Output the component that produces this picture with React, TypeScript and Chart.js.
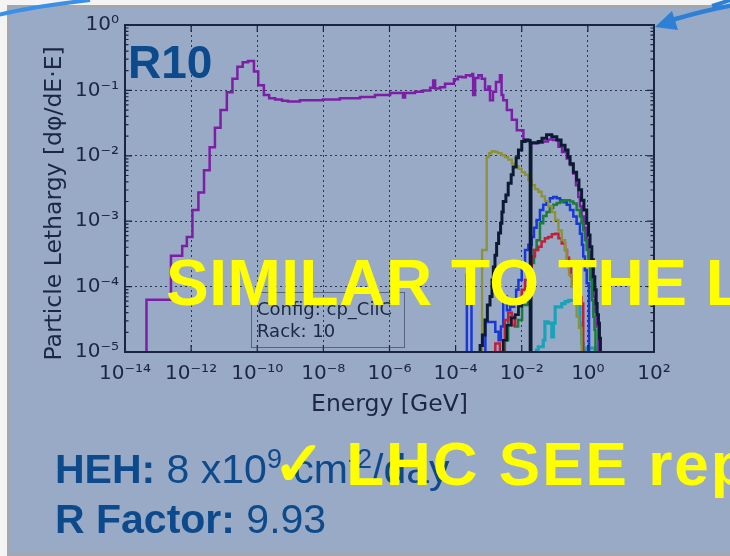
import React, { useEffect, useRef } from 'react';
import { Chart, registerables } from 'chart.js';

Chart.register(...registerables);

// ---------- data (log10 energy [GeV], log10 lethargy) ----------
const Z = -9; // empty bin

type Bin = [number, number];

const xTickExp = [-14, -12, -10, -8, -6, -4, -2, 0, 2];
const xTickLabels = ['10⁻¹⁴', '10⁻¹²', '10⁻¹⁰', '10⁻⁸', '10⁻⁶', '10⁻⁴', '10⁻²', '10⁰', '10²'];
const yTickExp = [-5, -4, -3, -2, -1, 0];
const yTickLabels = ['10⁻⁵', '10⁻⁴', '10⁻³', '10⁻²', '10⁻¹', '10⁰'];

const purpleBins: Bin[] = [
  [-13.35, -4.2], [-12.61, -3.53], [-12.27, -3.38], [-12.13, -3.24], [-11.96, -2.83], [-11.78, -2.56],
  [-11.61, -2.22], [-11.44, -1.87], [-11.28, -1.57], [-11.11, -1.3], [-10.92, -1.03], [-10.75, -0.82],
  [-10.6, -0.64], [-10.44, -0.57], [-10.28, -0.55], [-10.1, -0.71], [-9.97, -0.92], [-9.8, -1.07],
  [-9.64, -1.12], [-9.46, -1.14], [-9.25, -1.16], [-9.07, -1.17], [-8.86, -1.17], [-8.71, -1.15],
  [-8.4, -1.15], [-8.01, -1.14], [-7.5, -1.12], [-6.89, -1.1], [-6.44, -1.07], [-5.98, -1.04],
  [-5.68, -1.04], [-5.59, -1.11], [-5.53, -1.04], [-5.23, -1.02], [-4.99, -1.0], [-4.77, -0.96],
  [-4.68, -0.85], [-4.62, -0.97], [-4.47, -0.95], [-4.32, -0.9], [-4.17, -0.9], [-4.05, -0.83],
  [-3.93, -0.79], [-3.81, -0.8], [-3.69, -0.77], [-3.56, -0.78], [-3.5, -0.75], [-3.47, -1.07],
  [-3.41, -0.81], [-3.31, -0.77], [-3.21, -0.82], [-3.11, -0.99], [-3.01, -0.94], [-2.96, -1.15],
  [-2.87, -1.02], [-2.78, -0.87], [-2.66, -0.77], [-2.61, -1.07], [-2.56, -1.15], [-2.45, -1.3],
  [-2.3, -1.45], [-2.15, -1.61], [-1.95, -1.76], [-1.75, -1.81], [-1.54, -1.8], [-1.36, -1.78],
  [-1.21, -1.75], [-1.05, -1.76], [-0.89, -1.86], [-0.78, -1.94], [-0.64, -2.04], [-0.54, -2.14],
  [-0.44, -2.27], [-0.36, -2.45], [-0.29, -2.63], [-0.24, -2.77], [-0.19, -2.93], [-0.12, -3.1],
  [-0.035, -3.29], [0.02, -3.47], [0.065, -3.64], [0.12, -3.9], [0.165, -4.15], [0.22, -4.39],
  [0.27, -4.61],
];
const purpleEnd = 0.32;

const blackBins: Bin[] = [
  [-3.26, -4.9], [-3.19, -4.74], [-3.11, -4.51], [-3.04, -4.28], [-2.96, -4.15], [-2.9, -3.9],
  [-2.86, -3.7], [-2.81, -3.52], [-2.76, -3.34], [-2.7, -3.18], [-2.64, -3.03], [-2.6, -2.86],
  [-2.56, -2.7], [-2.48, -2.6], [-2.41, -2.42], [-2.32, -2.29], [-2.26, -2.17], [-2.17, -2.03],
  [-2.1, -1.91], [-2.0, -1.78], [-1.9, -1.76], [-1.81, -1.77], [-1.745, Z], [-1.72, -1.8],
  [-1.6, -1.8], [-1.5, -1.78], [-1.39, -1.73], [-1.25, -1.68], [-1.09, -1.71], [-0.94, -1.76],
  [-0.81, -1.84], [-0.69, -1.91], [-0.6, -2.02], [-0.54, -2.12], [-0.44, -2.25], [-0.34, -2.37],
  [-0.27, -2.52], [-0.19, -2.68], [-0.12, -2.83], [-0.035, -3.03], [0.02, -3.21], [0.065, -3.39],
  [0.12, -3.59], [0.165, -3.85], [0.21, -4.05], [0.25, -4.26], [0.28, -4.43], [0.32, -4.56],
  [0.35, -4.79],
];
const blackEnd = 0.38;

const oliveBins: Bin[] = [
  [-3.2, -3.44], [-3.06, -2.02], [-2.99, -1.96], [-2.91, -1.93], [-2.81, -1.94], [-2.72, -1.96],
  [-2.61, -1.99], [-2.51, -2.02], [-2.41, -2.06], [-2.3, -2.12], [-2.2, -2.16], [-2.1, -2.2],
  [-2.0, -2.25], [-1.9, -2.29], [-1.8, -2.37], [-1.7, -2.45], [-1.6, -2.51], [-1.5, -2.55],
  [-1.4, -2.62], [-1.3, -2.69], [-1.2, -2.77], [-1.09, -2.86], [-0.99, -2.98], [-0.89, -3.14],
  [-0.79, -3.29], [-0.69, -3.44], [-0.64, -3.64], [-0.57, -3.82], [-0.49, -4.0], [-0.42, -4.21],
  [-0.34, -4.46], [-0.27, -4.63],
];
const oliveEnd = -0.19;

const blueBins: Bin[] = [
  [-3.66, -3.82], [-3.52, Z], [-3.1, -4.54], [-2.8, -4.69], [-2.7, -4.82], [-2.63, -4.61],
  [-2.56, -4.15], [-2.45, -4.36], [-2.35, -4.31], [-2.23, -4.21], [-2.17, -4.05], [-2.1, -3.9],
  [-2.0, -3.7], [-1.9, -3.44], [-1.8, -3.36], [-1.7, -3.24], [-1.63, -3.1], [-1.55, -2.98],
  [-1.45, -2.83], [-1.35, -2.75], [-1.25, -2.7], [-1.15, -2.65], [-1.05, -2.63], [-0.94, -2.65],
  [-0.84, -2.68], [-0.74, -2.71], [-0.64, -2.75], [-0.54, -2.83], [-0.44, -2.93], [-0.34, -3.04],
  [-0.24, -3.19], [-0.18, -3.36], [-0.14, -3.54], [-0.09, -3.75], [-0.035, -3.95],
];
const blueEnd = 0.035;

const greenBins: Bin[] = [
  [-2.51, -4.82], [-2.41, -4.46], [-2.21, -4.61], [-2.11, -4.51], [-1.99, -4.28], [-1.81, -3.98],
  [-1.7, -3.64], [-1.63, -3.44], [-1.55, -3.29], [-1.45, -3.03], [-1.35, -2.92], [-1.25, -2.86],
  [-1.15, -2.8], [-1.05, -2.75], [-0.94, -2.72], [-0.84, -2.7], [-0.74, -2.68], [-0.64, -2.68],
  [-0.54, -2.7], [-0.44, -2.73], [-0.34, -2.83], [-0.24, -2.93], [-0.19, -3.03], [-0.14, -3.14],
  [-0.09, -3.29], [-0.035, -3.44], [0.015, -3.67], [0.065, -3.9], [0.12, -4.21], [0.165, -4.46],
  [0.2, -4.66],
];
const greenEnd = 0.23;

const redBins: Bin[] = [
  [-2.8, -4.87], [-2.66, Z], [-2.56, -4.82], [-2.51, -4.51], [-2.41, -4.4], [-2.3, -4.59],
  [-2.2, -4.43], [-2.1, -4.28], [-2.0, -4.05], [-1.9, -3.9], [-1.8, -3.75], [-1.7, -3.54],
  [-1.6, -3.44], [-1.5, -3.39], [-1.4, -3.31], [-1.3, -3.26], [-1.2, -3.24], [-1.09, -3.2],
  [-0.99, -3.19], [-0.89, -3.26], [-0.79, -3.34], [-0.69, -3.44], [-0.63, -3.56], [-0.57, -3.72],
  [-0.51, -3.84], [-0.44, -3.95], [-0.34, -4.05], [-0.27, -4.16], [-0.19, -4.26],
];
const redEnd = -0.14;

const cyanBins: Bin[] = [
  [-1.55, -4.97], [-1.5, -4.92], [-1.35, -4.82], [-1.3, -4.54], [-1.2, -4.56], [-1.09, -4.77],
  [-1.04, -4.56], [-0.99, -4.31], [-0.89, -4.31], [-0.79, -4.26], [-0.69, -4.23], [-0.59, -4.21],
  [-0.44, -4.21], [-0.34, -4.22], [-0.29, -4.26], [-0.24, -4.56], [-0.19, -4.87], [-0.14, -4.97],
  [-0.035, -4.94],
];
const cyanEnd = 0.22;

const navyLowBins: Bin[] = [
  [-2.56, -4.82], [-2.45, -4.59], [-2.32, -4.48], [-2.2, -4.43], [-2.1, -4.3], [-2.0, -4.2], [-1.93, -4.2],
];
const navyLowEnd: number | null = null;

// ---------- styles ----------
const FONT = "'DejaVu Sans', sans-serif";
const INK = '#1b2743';
const GRID = '#2b3550';
const FRAME = '#1a2540';

function toPoints(bins: Bin[], end: number | null) {
  const pts: { x: number; y: number }[] = [{ x: 10 ** bins[0][0], y: 10 ** Z }];
  for (const [e, v] of bins) pts.push({ x: 10 ** e, y: 10 ** v });
  if (end !== null) pts.push({ x: 10 ** end, y: 10 ** Z });
  return pts;
}

const series = [
  { label: 'black', bins: blackBins, end: blackEnd, color: '#0c1a33', width: 3 },
  { label: 'navyLow', bins: navyLowBins, end: navyLowEnd, color: '#0c1a33', width: 2.5 },
  { label: 'olive', bins: oliveBins, end: oliveEnd, color: '#8c9236', width: 2.3 },
  { label: 'red', bins: redBins, end: redEnd, color: '#c0203c', width: 2.5 },
  { label: 'green', bins: greenBins, end: greenEnd, color: '#1a7d3c', width: 2.5 },
  { label: 'blue', bins: blueBins, end: blueEnd, color: '#1838d8', width: 2.5 },
  { label: 'cyan', bins: cyanBins, end: cyanEnd, color: '#1aa3b8', width: 3.2 },
  { label: 'purple', bins: purpleBins, end: purpleEnd, color: '#7c1fa6', width: 2.5 },
];

const framePlugin = {
  id: 'frame',
  afterDatasetsDraw(chart: any) {
    const { ctx, chartArea: a, scales } = chart;
    const xs = scales.x;
    const ys = scales.y;
    ctx.save();
    ctx.strokeStyle = FRAME;
    ctx.lineWidth = 1.2;
    ctx.beginPath();
    for (const e of yTickExp) {
      const p = ys.getPixelForValue(10 ** e);
      ctx.moveTo(a.left, p); ctx.lineTo(a.left + 7, p);
      ctx.moveTo(a.right, p); ctx.lineTo(a.right - 7, p);
    }
    for (let e = -5; e < 0; e++) {
      for (let m = 2; m < 10; m++) {
        const p = ys.getPixelForValue(m * 10 ** e);
        ctx.moveTo(a.left, p); ctx.lineTo(a.left + 3.5, p);
        ctx.moveTo(a.right, p); ctx.lineTo(a.right - 3.5, p);
      }
    }
    for (const e of xTickExp) {
      const p = xs.getPixelForValue(10 ** e);
      ctx.moveTo(p, a.bottom); ctx.lineTo(p, a.bottom - 7);
      ctx.moveTo(p, a.top); ctx.lineTo(p, a.top + 7);
    }
    ctx.stroke();
    ctx.lineWidth = 2;
    ctx.strokeRect(a.left, a.top, a.right - a.left, a.bottom - a.top);
    ctx.restore();
  },
};

export default function App() {
  const ref = useRef<HTMLCanvasElement | null>(null);

  useEffect(() => {
    if (!ref.current) return;
    const datasets = series.map((s, i) => ({
      label: s.label,
      data: toPoints(s.bins, s.end),
      borderColor: s.color,
      backgroundColor: s.color,
      borderWidth: s.width,
      stepped: true,
      pointRadius: 0,
      fill: false,
      order: i,
    }));
    const chart = new Chart(ref.current, {
      type: 'line',
      data: { datasets } as any,
      options: {
        animation: false,
        responsive: false,
        maintainAspectRatio: false,
        devicePixelRatio: 1,
        layout: { padding: { left: 0, right: 76, top: 25, bottom: 0 } },
        plugins: { legend: { display: false }, tooltip: { enabled: false } },
        scales: {
          x: {
            type: 'logarithmic',
            min: 1e-14,
            max: 1e2,
            afterBuildTicks: (s: any) => { s.ticks = xTickExp.map((e) => ({ value: 10 ** e })); },
            afterFit: (s: any) => { s.height = 204; },
            ticks: {
              callback: (_v: any, i: number) => xTickLabels[i],
              autoSkip: false, maxRotation: 0, minRotation: 0, padding: 10,
              color: INK, font: { family: FONT, size: 20 },
            },
            grid: { color: GRID, lineWidth: 1, drawTicks: false },
            border: { display: false, dash: [2, 3] },
            title: {
              display: true, text: 'Energy [GeV]', color: INK,
              font: { family: FONT, size: 23.5 }, padding: { top: 0, bottom: 137 },
            },
          },
          y: {
            type: 'logarithmic',
            min: 1e-5,
            max: 1,
            afterBuildTicks: (s: any) => { s.ticks = yTickExp.map((e) => ({ value: 10 ** e })); },
            afterFit: (s: any) => { s.width = 125; },
            ticks: {
              callback: (_v: any, i: number) => yTickLabels[i],
              autoSkip: false, padding: 6,
              color: INK, font: { family: FONT, size: 20 },
            },
            grid: { color: GRID, lineWidth: 1, drawTicks: false },
            border: { display: false, dash: [2, 3] },
            title: {
              display: true, text: 'Particle Lethargy [dφ/dE·E]\u00a0\u00a0\u00a0\u00a0', color: INK,
              font: { family: FONT, size: 23.5 }, padding: { top: 41, bottom: 0 },
            },
          },
        },
      } as any,
      plugins: [framePlugin],
    });
    return () => chart.destroy();
  }, []);

  const blue = '#0c4a8c';
  const sup: React.CSSProperties = { fontSize: 27, position: 'relative', top: -15 };

  return (
    <div style={{ position: 'fixed', left: 0, top: 0, width: 730, height: 556, overflow: 'hidden', background: '#f4f4f4', fontFamily: "'Liberation Sans', Arial, sans-serif" }}>
      <div style={{ position: 'absolute', left: 7, top: 5, width: 760, height: 551, boxSizing: 'border-box', border: '3px solid #a7a7a7', background: '#99aac6' }} />
      <canvas ref={ref} width={730} height={556} style={{ position: 'absolute', left: 0, top: 0, width: 730, height: 556 }} />
      <div style={{ position: 'absolute', left: 251, top: 292, width: 154, height: 56, boxSizing: 'border-box', border: '1px solid rgba(60,70,95,0.7)', padding: '5px 0 0 5px', fontFamily: FONT, fontSize: 18, lineHeight: '22px', color: INK, whiteSpace: 'nowrap' }}>
        <div>Config: cp_CilC</div>
        <div>Rack: 10</div>
      </div>
      <div style={{ position: 'absolute', left: 128, top: 38.5, fontSize: 46, lineHeight: 1, fontWeight: 'bold', color: blue }}>R10</div>
      <div style={{ position: 'absolute', left: 55, top: 449, fontSize: 41, lineHeight: 1, color: blue, whiteSpace: 'nowrap' }}>
        <b>HEH:</b> 8 x10<span style={sup}>9</span> cm<span style={sup}>-2</span>/day
      </div>
      <div style={{ position: 'absolute', left: 55, top: 499, fontSize: 41, lineHeight: 1, color: blue, whiteSpace: 'nowrap' }}>
        <b>R Factor:</b> 9.93
      </div>
      <div style={{ position: 'absolute', left: 166, top: 250.8, fontSize: 64, lineHeight: 1, fontWeight: 'bold', letterSpacing: 0.5, color: '#ffff00', whiteSpace: 'nowrap' }}>
        SIMILAR TO THE LHC
      </div>
      <div style={{ position: 'absolute', left: 273, top: 433, fontSize: 62, lineHeight: 1, fontWeight: 'bold', letterSpacing: 2, color: '#ffff00', whiteSpace: 'nowrap' }}>
        ✓ LHC SEE reports
      </div>
      <svg width={730} height={556} style={{ position: 'absolute', left: 0, top: 0, pointerEvents: 'none' }}>
        <path d="M -2 15 Q 30 7 90 0" stroke="#3a8fe6" strokeWidth={4} fill="none" />
        <path d="M 734 5 Q 706 10 672 20" stroke="#2e7fd6" strokeWidth={4.5} fill="none" />
        <polygon points="655,27 672,11 678,30" fill="#2e7fd6" />
        <path d="M 712 6 L 734 -1" stroke="#2e7fd6" strokeWidth={4} fill="none" />
      </svg>
    </div>
  );
}
